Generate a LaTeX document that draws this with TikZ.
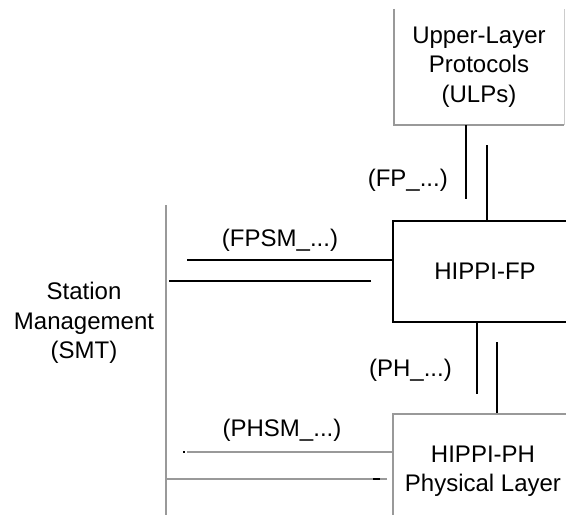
\documentclass[tikz,border=0pt]{standalone}
\usepackage{fontspec}
\setmainfont{Liberation Sans}
\usepackage{tikz}

\begin{document}
\begin{tikzpicture}[x=1pt,y=-1pt,
        every node/.style = {font=\fontsize{24}{29.5}\selectfont, align=center, inner sep=0pt},
        layer/.style = {draw, line width=2pt, minimum width=184pt, minimum height=101pt},
        soft/.style = {draw=gray!80, line width=2pt},
        link/.style = {line width=2pt},
        slink/.style = {draw=gray!80, line width=1.6pt}]
        \useasboundingbox (0,0) rectangle (566,515);
        \clip (0,0) rectangle (566,515);
        \node[minimum width=170pt, minimum height=116pt] (ulp) at (479,67) {Upper-Layer\\Protocols\\(ULPs)};
        \draw[soft] (ulp.north west) |- (ulp.south east);
        \draw[gray!40, line width=1pt] (ulp.south east) -- (ulp.north east);
        \node[layer] (fp) at (485,271.5) {HIPPI-FP};
        \node[layer, soft, minimum width=180pt, minimum height=114pt] (ph) at (483,471) {HIPPI-PH\\Physical Layer};
        \node (smt) at (84,323) {Station\\Management\\(SMT)};
        \draw[soft] (166,205) -- (166,515);
        \node[anchor=east] (fplbl) at (448,180) {(FP\_...)};
        \node (fpsmlbl) at (280,240) {(FPSM\_...)};
        \node[anchor=east] (phlbl) at (452,370) {(PH\_...)};
        \node (phsmlbl) at (282,430) {(PHSM\_...)};
        \draw[link] ([xshift=-13pt]ulp.south) -- ++(0,74);
        \draw[link] ([xshift=2pt]fp.north) -- ++(0,-75);
        \draw[link] ([yshift=11.5pt]fp.west) -- ++(-205,0);
        \draw[link] ([xshift=-21pt,yshift=-9.5pt]fp.west) -- ++(-202,0);
        \draw[link] ([xshift=-8pt]fp.south) -- ++(0,71);
        \draw[link] ([xshift=14pt]ph.north) -- ++(0,-71);
        \draw[slink] ([yshift=19pt]ph.west) -- ++(-205,0);
        \fill (183,451) rectangle (185,453);
        \draw[slink] ([xshift=-5pt,yshift=-8pt]ph.west) -- ++(-222,0);
        \draw[link] (373,479) -- (380,479);
        \end{tikzpicture}
\end{document}
